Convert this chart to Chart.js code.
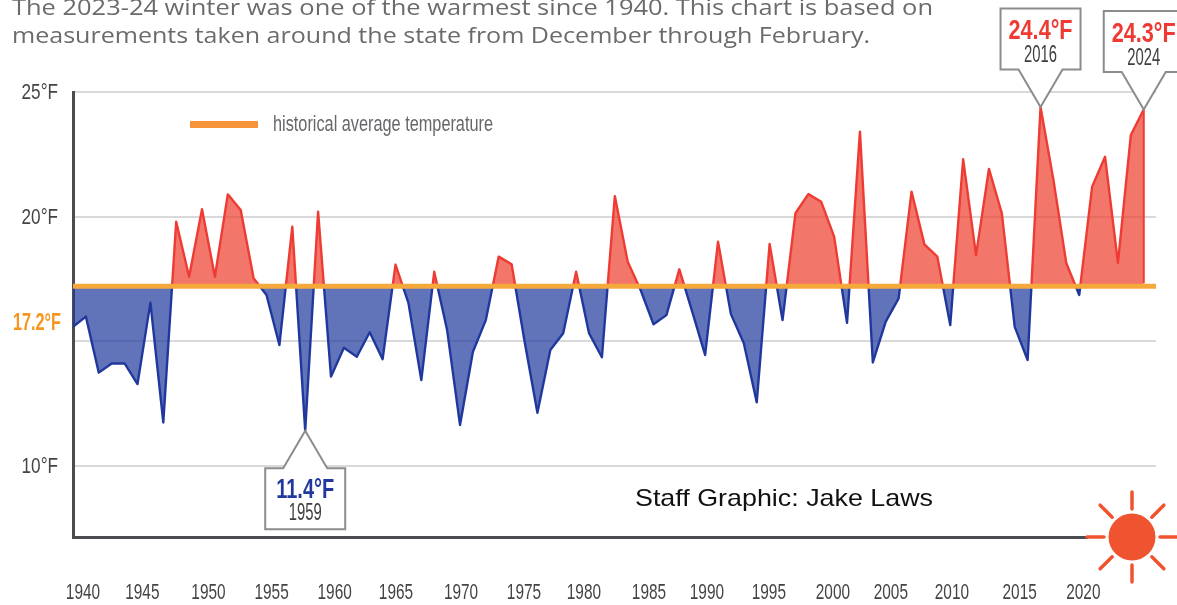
<!DOCTYPE html>
<html>
<head>
<meta charset="utf-8">
<style>
html,body{margin:0;padding:0;background:#fff;overflow:hidden}
#wrap{width:1177px;height:605px;position:relative}
canvas{display:block;filter:blur(0.55px)}
</style>
<script src="https://cdn.jsdelivr.net/npm/chart.js@4"></script>
</head>
<body>
<div id="wrap"><canvas id="c" width="1177" height="605"></canvas></div>
<script>
const winterYears = [1941,1942,1943,1944,1945,1946,1947,1948,1949,1950,1951,1952,1953,1954,1955,1956,1957,1958,1959,1960,
1961,1962,1963,1964,1965,1966,1967,1968,1969,1970,1971,1972,1973,1974,1975,1976,1977,1978,1979,1980,
1981,1982,1983,1984,1985,1986,1987,1988,1989,1990,1991,1992,1993,1994,1995,1996,1997,1998,1999,2000,
2001,2002,2003,2004,2005,2006,2007,2008,2009,2010,2011,2012,2013,2014,2015,2016,2017,2018,2019,2020,
2021,2022,2023,2024];
const winterTemps = [15.57,15.98,13.73,14.10,14.10,13.27,16.54,11.73,19.79,17.58,20.29,17.58,20.89,20.26,17.52,16.85,14.84,19.59,11.4,20.19,
13.57,14.73,14.37,15.35,14.27,18.07,16.53,13.43,17.78,15.44,11.63,14.57,15.84,18.39,18.08,15.0,12.12,14.64,15.31,17.78,
15.31,14.35,20.82,18.18,17.05,15.67,16.04,17.88,16.18,14.44,18.99,16.08,14.91,12.54,18.90,15.84,20.13,20.90,20.59,19.19,
15.73,23.41,14.14,15.78,16.71,21.0,18.88,18.39,15.64,22.30,18.45,21.91,20.13,15.57,14.24,24.4,21.47,18.12,16.85,21.20,
22.40,18.14,23.27,24.3];
const averageTemp = 17.2;
const yTickValues = [10,15,20,25];
const yTickLabels = {10:'10°F',20:'20°F',25:'25°F'};
const xTickLabels = ['1940','1945','1950','1955','1960','1965','1970','1975','1980','1985','1990','1995','2000','2005','2010','2015','2020'];
// where each printed year sits on the (slightly irregular) printed time axis
const xTickSpots = [1940,1944.75,1950.05,1955.1,1960.15,1965.06,1970.27,1975.31,1980.11,1985.32,1989.96,1994.92,2000.05,2004.69,2009.58,2015.0,2020.1];
const subtitleLines = ['The 2023-24 winter was one of the warmest since 1940. This chart is based on','measurements taken around the state from December through February.'];
const callouts = [
  {year:2016,value:24.4,side:'above',color:'#ee3a33'},
  {year:2024,value:24.3,side:'above',color:'#ee3a33'},
  {year:1959,value:11.4,side:'below',color:'#22389f'}
];

const SANS = '"Liberation Sans",sans-serif';
const GRAY = '#434446';
const RED='#ee3b33', BLUE='#20379d';

function fitText(c,text,x,y,width,font,color,align){
  c.save();
  c.font=font;c.fillStyle=color;c.textBaseline='alphabetic';c.textAlign='left';
  const m=c.measureText(text).width;
  const s=width/m;
  const left=align==='center'?x-width/2:x;
  c.translate(left,y);c.scale(s,1);c.fillText(text,0,0);
  c.restore();
}

// the axis keeps its own label items; they are only printed in a squeezed, condensed form
function squeezeLabels(scale,factor,dy){
  scale.drawLabels=function(area){
    const c=this.ctx;
    this.getLabelItems(area).forEach(item=>{
      const o=item.options;
      c.save();
      c.translate(o.translation[0],o.translation[1]+dy);
      c.scale(factor,1);
      c.font=item.font.string;c.fillStyle=o.color;c.textAlign=o.textAlign;c.textBaseline=o.textBaseline;
      c.fillText(item.label,0,item.textOffset);
      c.restore();
    });
  };
}

const annotations = {
  id:'annotations',
  afterDatasetsDraw(chart){
    const c=chart.ctx,X=chart.scales.x,Y=chart.scales.y;
    // right rim of the last warm area
    const lastX=X.getPixelForValue(winterYears[winterYears.length-1]);
    c.save();c.strokeStyle=RED;c.lineWidth=2;c.beginPath();
    c.moveTo(lastX,Y.getPixelForValue(winterTemps[winterTemps.length-1]));
    c.lineTo(lastX,Y.getPixelForValue(averageTemp)-3);c.stroke();c.restore();
    // subtitle
    fitText(c,subtitleLines[0],12,15,921,'21px "Open Sans"','#6a6b6d');
    fitText(c,subtitleLines[1],12,43,858,'21px "Open Sans"','#6a6b6d');
    // legend
    c.fillStyle='#f7943a';c.fillRect(190,121,68,7);
    fitText(c,'historical average temperature',273,131,220,'22px '+SANS,'#66676a');
    // average label
    fitText(c,averageTemp+'°F',13,330,48,'bold 24px '+SANS,'#f7961f');
    // credit
    fitText(c,'Staff Graphic: Jake Laws',635,506,298,'24px "Liberation Sans"','#111');
    // callouts
    callouts.forEach(o=>{
      const tx=X.getPixelForValue(o.year),ty=Y.getPixelForValue(o.value);
      const dir=o.side==='above'?-1:1;
      const near=ty+dir*37.5, far=near+dir*61;
      c.save();
      c.beginPath();
      c.moveTo(tx,ty);c.lineTo(tx+22,near);c.lineTo(tx+40,near);c.lineTo(tx+40,far);
      c.lineTo(tx-40,far);c.lineTo(tx-40,near);c.lineTo(tx-22,near);c.closePath();
      c.fillStyle='#fff';c.fill();
      c.strokeStyle='#8b8c8e';c.lineWidth=2;c.lineJoin='miter';c.stroke();
      c.restore();
      const valY=o.side==='above'?far+31:near+30;
      const yrY=o.side==='above'?far+54:near+52;
      fitText(c,o.value+'°F',tx,valY,o.side==='above'?64:58,'bold 27px '+SANS,o.color,'center');
      fitText(c,String(o.year),tx,yrY,33,'23px '+SANS,'#3f4042','center');
    });
    // sun over the end of the axis
    const sx=1132,sy=Y.getPixelForValue(Y.min);
    c.save();
    c.fillStyle='#fff';c.fillRect(1088,sy-4,89,8);
    c.fillStyle='#f0532f';c.beginPath();c.arc(sx,sy,23.5,0,Math.PI*2);c.fill();
    c.strokeStyle='#f0532f';c.lineWidth=3.5;c.lineCap='round';
    for(let i=0;i<8;i++){
      const a=i*Math.PI/4;
      c.beginPath();
      c.moveTo(sx+Math.cos(a)*28,sy+Math.sin(a)*28);
      c.lineTo(sx+Math.cos(a)*45,sy+Math.sin(a)*45);
      c.stroke();
    }
    c.restore();
  }
};

const dataMin=winterYears[0], dataMax=2024.95;

new Chart(document.getElementById('c'),{
  type:'line',
  data:{datasets:[
    {
      label:'historical average temperature',
      data:[{x:dataMin,y:averageTemp},{x:dataMax,y:averageTemp}],
      borderColor:'#f6a93b',borderWidth:5,pointRadius:0,fill:false,xAxisID:'x',yAxisID:'y'
    },
    {
      label:'Winter temperature',
      data:winterYears.map((y,i)=>({x:y,y:winterTemps[i]})),
      pointRadius:0,tension:0,borderWidth:2.4,borderJoinStyle:'round',xAxisID:'x',yAxisID:'y',
      fill:{target:{value:averageTemp},above:'rgba(237,60,42,0.7)',below:'rgba(30,55,155,0.7)'},
      borderColor(ctx){
        const ch=ctx.chart,a=ch.chartArea;
        if(!a) return RED;
        const g=ch.ctx.createLinearGradient(0,a.top,0,a.bottom);
        const p=(ch.scales.y.getPixelForValue(averageTemp)-a.top)/(a.bottom-a.top);
        g.addColorStop(0,RED);g.addColorStop(p,RED);g.addColorStop(p,BLUE);g.addColorStop(1,BLUE);
        return g;
      }
    }
  ]},
  options:{
    responsive:false,animation:false,parsing:true,
    layout:{padding:{top:92,right:21,left:0,bottom:0}},
    plugins:{legend:{display:false},tooltip:{enabled:false},title:{display:false}},
    scales:{
      x:{type:'linear',display:false,min:dataMin,max:dataMax},
      x2:{
        type:'linear',position:'bottom',min:1939.2,max:2025.92,
        grid:{display:false},
        border:{display:true,color:'#4b4c4f',width:3},
        afterBuildTicks(s){s.ticks=xTickSpots.map(v=>({value:v}));},
        afterFit(s){s.height=68;squeezeLabels(s,0.7,0);},
        ticks:{autoSkip:false,maxRotation:0,padding:35,color:GRAY,
          font:{family:SANS,size:22,weight:'normal'},
          callback:(v,i)=>xTickLabels[i]}
      },
      y:{
        type:'linear',min:7.13,max:25,
        grid:{color:'#d9d9dc',lineWidth:2,drawTicks:false},
        border:{display:true,color:'#4b4c4f',width:3},
        afterBuildTicks(s){s.ticks=yTickValues.map(v=>({value:v}));},
        afterFit(s){s.width=73;squeezeLabels(s,0.78,1);},
        ticks:{padding:15,color:GRAY,font:{family:SANS,size:22,weight:'normal'},
          callback:v=>yTickLabels[v]||''}
      }
    }
  },
  plugins:[annotations]
});
</script>
</body>
</html>
